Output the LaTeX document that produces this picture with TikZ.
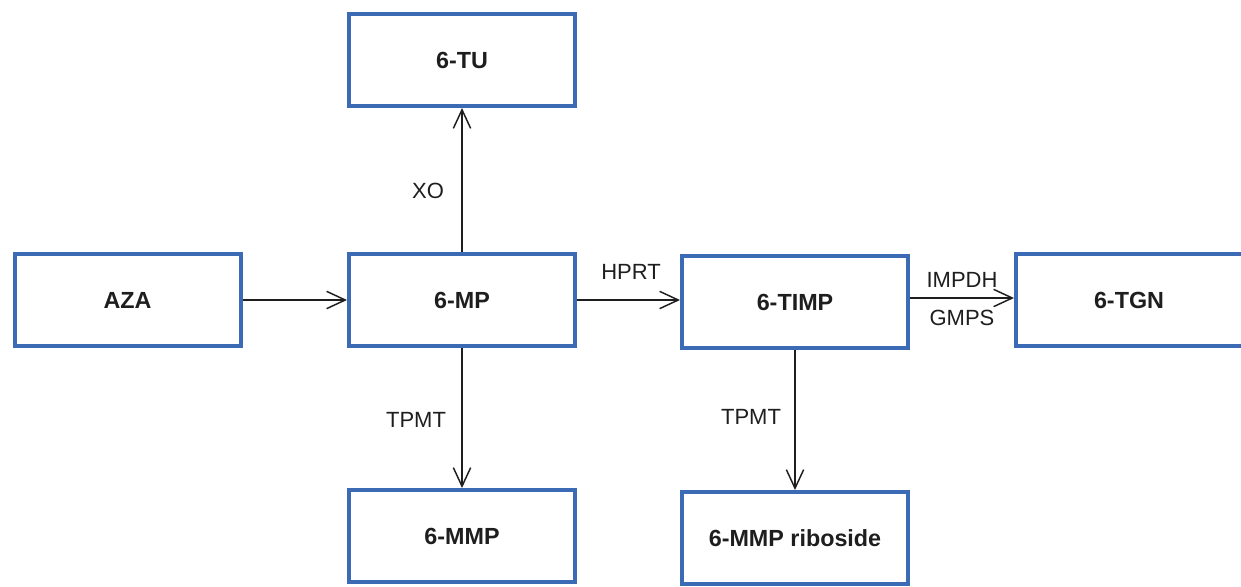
\documentclass[tikz,border=0pt]{standalone}
\usepackage{fontspec}
\setmainfont{Liberation Sans}
\usetikzlibrary{arrows.meta}
\definecolor{boxblue}{RGB}{58,107,180}
\definecolor{ink}{RGB}{30,30,30}
\begin{document}
\begin{tikzpicture}[x=0.75pt,y=-0.75pt,
  stagebox/.style={draw=boxblue,line width=3pt,fill=white,minimum width=226*0.75pt,
    minimum height=92*0.75pt,inner sep=0pt,font=\bfseries\fontsize{17.5}{20}\selectfont,text=ink},
  flow/.style={draw=ink,line width=1.1pt,-{Straight Barb[length=14pt,width=13pt,line width=1.1pt]}},
  enzyme/.style={font=\fontsize{16.5}{19}\selectfont,text=ink,inner sep=0pt}]
  \useasboundingbox (0,0) rectangle (1241,586);
  \clip (0,0) rectangle (1241,586);
  % metabolites
  \node[stagebox] (tu)   at (462,60)    {6-TU};
  \node[stagebox] (aza)  at (127.5,300) {AZA};
  \node[stagebox] (mp)   at (462,300)   {6-MP};
  \node[stagebox] (timp) at (795,302)   {6-TIMP};
  \node[stagebox,minimum width=236*0.75pt] (tgn) at (1134,300) {};
  \node[font=\bfseries\fontsize{17.5}{20}\selectfont,text=ink] (tgnlabel) at (1129,300) {6-TGN};
  \node[stagebox] (mmp)  at (462,536)   {6-MMP};
  \node[stagebox] (rib)  at (795,538)   {6-MMP riboside};
  % conversions
  \draw[flow] (aza.east) -- (mp.west);
  \draw[flow] (mp.north) -- (tu.south);
  \draw[flow] (mp.south) -- (mmp.north);
  \draw[flow] (mp.east) -- (mp.east -| timp.west);
  \draw[flow] ([yshift=3pt]timp.east) -- ([yshift=3pt]timp.east -| tgn.west);
  \draw[flow] (timp.south) -- (rib.north);
  % enzymes
  \node[enzyme] (xo)    at (428,191) {XO};
  \node[enzyme] (hprt)  at (631,272) {HPRT};
  \node[enzyme] (impdh) at (962,280) {IMPDH};
  \node[enzyme] (gmps)  at (962,318) {GMPS};
  \node[enzyme] (tpmt1) at (416,420) {TPMT};
  \node[enzyme] (tpmt2) at (751,417) {TPMT};
\end{tikzpicture}
\end{document}
